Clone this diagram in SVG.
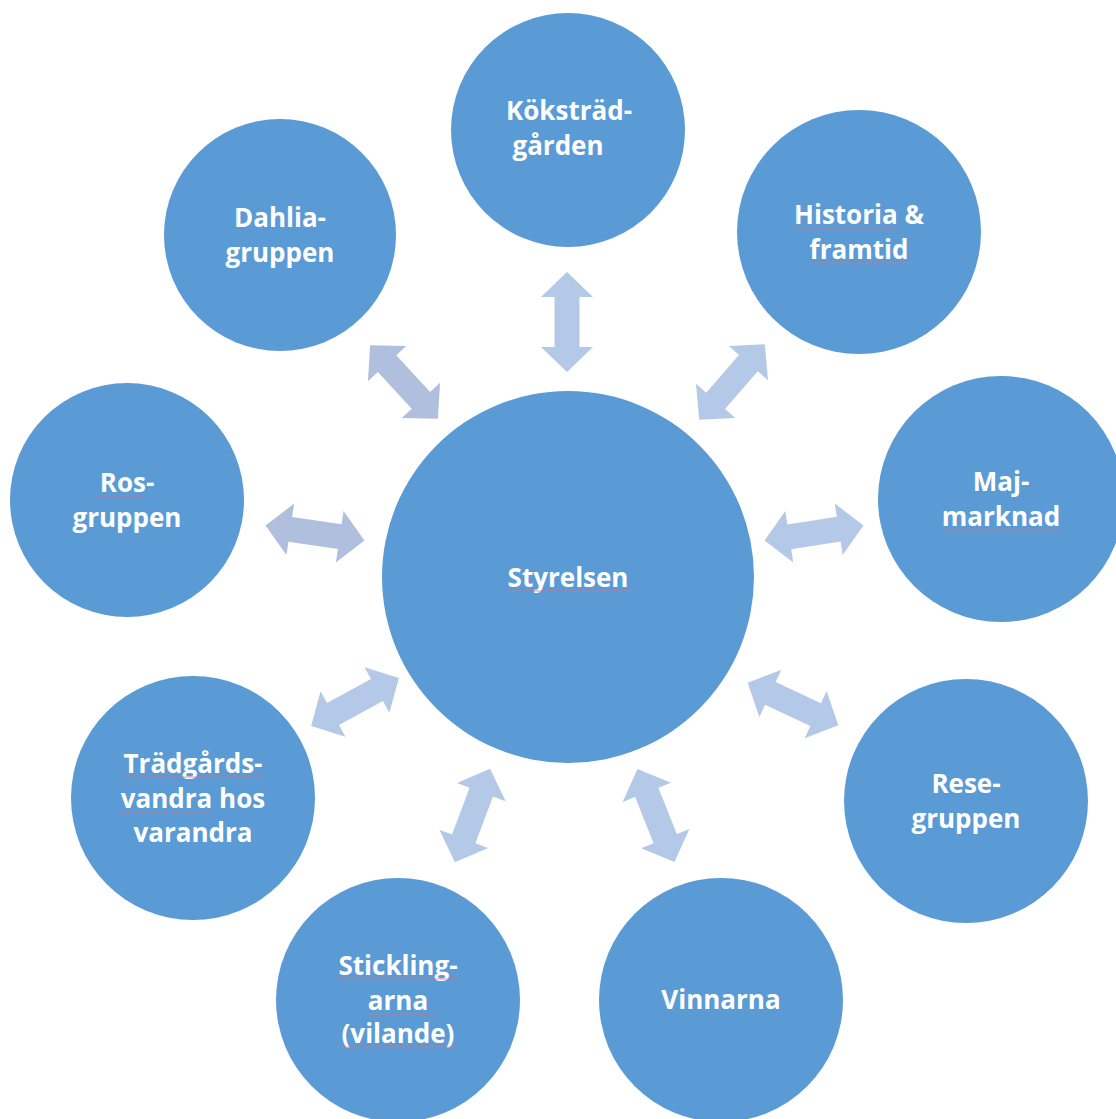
<svg xmlns="http://www.w3.org/2000/svg" width="1116" height="1119" viewBox="0 0 1116 1119">
<style>
.c{fill:#5B9BD5}
.t{font-family:"Open Sans",Lato,"Liberation Sans",sans-serif;font-weight:bold;font-size:26px;fill:#fff;text-anchor:middle}
.a{fill:#B4C8E8}
.a2{fill:#AFBFDD}
.u{stroke:#D9707F;stroke-width:1.2;opacity:0.75}
</style>
<defs>
<polygon id="arr" points="-50,0 -25,-26 -25,-12.5 25,-12.5 25,-26 50,0 25,26 25,12.5 -25,12.5 -25,26"/>
</defs>
<rect width="1116" height="1119" fill="#fff"/>
<g id="connectors">
<use href="#arr" class="a" transform="translate(567,322) rotate(90)"/>
<use href="#arr" class="a2" transform="translate(404,382) rotate(47.4)"/>
<use href="#arr" class="a" transform="translate(732,382) rotate(131)"/>
<use href="#arr" class="a2" transform="translate(315,533) rotate(8.5)"/>
<use href="#arr" class="a" transform="translate(814,533) rotate(-8.7)"/>
<use href="#arr" class="a" transform="translate(355,702) rotate(-28.6)"/>
<use href="#arr" class="a" transform="translate(793,704) rotate(25)"/>
<use href="#arr" class="a" transform="translate(472.5,815.5) rotate(-69.4)"/>
<use href="#arr" class="a" transform="translate(656,815.5) rotate(68.3)"/>
</g>
<g id="styrelsen">
<circle class="c" cx="568" cy="577" r="186"/>
<text class="t" x="568" y="587">Styrelsen</text>
<line class="u" x1="507" y1="591" x2="629" y2="591"/>
</g>
<g id="kokstradgarden">
<circle class="c" cx="568" cy="130" r="117"/>
<text class="t" x="569" y="120">Köksträd-</text>
<text class="t" x="558" y="155">gården</text>
</g>
<g id="dahlia">
<circle class="c" cx="280" cy="235" r="116"/>
<text class="t" x="280" y="227">Dahlia-</text>
<text class="t" x="280" y="262">gruppen</text>
</g>
<g id="historia">
<circle class="c" cx="859" cy="232" r="122"/>
<text class="t" x="859" y="224">Historia &amp;</text>
<text class="t" x="859" y="259">framtid</text>
<line class="u" x1="794" y1="228" x2="898" y2="228"/>
<line class="u" x1="810" y1="263" x2="908" y2="263"/>
</g>
<g id="maj">
<circle class="c" cx="1001" cy="499" r="123"/>
<text class="t" x="1001" y="491">Maj-</text>
<text class="t" x="1001" y="526">marknad</text>
<line class="u" x1="943" y1="530" x2="1059" y2="530"/>
</g>
<g id="ros">
<circle class="c" cx="127" cy="500" r="117"/>
<text class="t" x="127" y="492">Ros-</text>
<text class="t" x="127" y="527">gruppen</text>
<line class="u" x1="98" y1="496" x2="146" y2="496"/>
</g>
<g id="tradgards">
<circle class="c" cx="193" cy="798" r="122"/>
<text class="t" x="193" y="773">Trädgårds-</text>
<text class="t" x="193" y="808">vandra hos</text>
<text class="t" x="193" y="842">varandra</text>
<line class="u" x1="124" y1="777" x2="263" y2="777"/>
<line class="u" x1="120" y1="812" x2="211" y2="812"/>
</g>
<g id="rese">
<circle class="c" cx="966" cy="801" r="122"/>
<text class="t" x="966" y="793">Rese-</text>
<text class="t" x="966" y="828">gruppen</text>
</g>
<g id="stickling">
<circle class="c" cx="398" cy="1000" r="122"/>
<text class="t" x="398" y="975">Stickling-</text>
<text class="t" x="398" y="1010">arna</text>
<text class="t" x="398" y="1043">(vilande)</text>
<line class="u" x1="338" y1="979" x2="459" y2="979"/>
<line class="u" x1="368" y1="1014" x2="436" y2="1014"/>
<line class="u" x1="340" y1="1047" x2="457" y2="1047"/>
</g>
<g id="vinnarna">
<circle class="c" cx="721" cy="1000" r="122"/>
<text class="t" x="721" y="1009">Vinnarna</text>
</g>
</svg>
